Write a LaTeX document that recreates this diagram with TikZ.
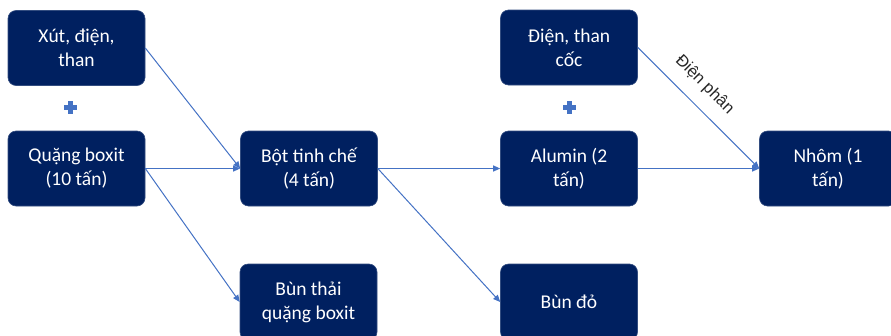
\documentclass[tikz,border=0pt]{standalone}
\usepackage{fontspec}
\setmainfont{Carlito}
\newfontfamily\lblfont{Liberation Sans}
\definecolor{navy}{RGB}{0,32,96}
\definecolor{arrowblue}{RGB}{68,114,196}
\usetikzlibrary{arrows.meta,calc}
\begin{document}
\begin{tikzpicture}[x=1pt,y=-1pt,
  box/.style={draw=navy!80!white, line width=0.6pt, fill=navy, rounded corners=8pt, minimum width=137pt, minimum height=75pt, align=center, text=white, font=\fontsize{19.5}{24}\selectfont, inner sep=0pt},
  flow/.style={draw=arrowblue, line width=1pt, -{Triangle[length=7pt,width=6pt]}},
  plussign/.style={fill=arrowblue},
  lbl/.style={font=\lblfont\fontsize{16.5}{18}\selectfont, text=black!85}]
\useasboundingbox (0,0) rectangle (891,335);
\node[box] (x1) at (76.5,48) {Xút, điện,\\than};
\node[box] (q) at (76.5,168.5) {Quặng boxit\\(10 tấn)};
\node[box] (bot) at (309,168.5) {Bột tinh chế\\(4 tấn)};
\node[box, minimum height=76pt] (bt) at (308.5,302) {Bùn thải\\quặng boxit};
\node[box, minimum height=75pt] (dt) at (569,47.5) {Điện, than\\cốc};
\node[box] (al) at (569,168.5) {Alumin (2\\tấn)};
\node[box, minimum height=76pt] (bd) at (569,302) {Bùn đỏ};
\node[box] (nh) at (828,168.5) {Nhôm (1\\tấn)};
% plus signs
\coordinate (p1) at (70,107);
\coordinate (p2) at (569,107);
\foreach \p in {p1,p2}{
  \fill[plussign] ($(\p)+(-6.5,-2.5)$) rectangle ($(\p)+(6.5,2.5)$);
  \fill[plussign] ($(\p)+(-2.5,-6.5)$) rectangle ($(\p)+(2.5,6.5)$);
}
% connectors
\draw[flow] (x1.east) -- (bot.west);
\draw[flow] (q.east) -- (bot.west);
\draw[flow] (q.east) -- (bt.west);
\draw[flow] (bot.east) -- (al.west);
\draw[flow] (bot.east) -- (bd.west);
\draw[flow] (dt.east) -- node[lbl, sloped, above=9pt, pos=0.43] (lab) {Điện phân} (nh.west);
\draw[flow] (al.east) -- (nh.west);
\end{tikzpicture}
\end{document}
